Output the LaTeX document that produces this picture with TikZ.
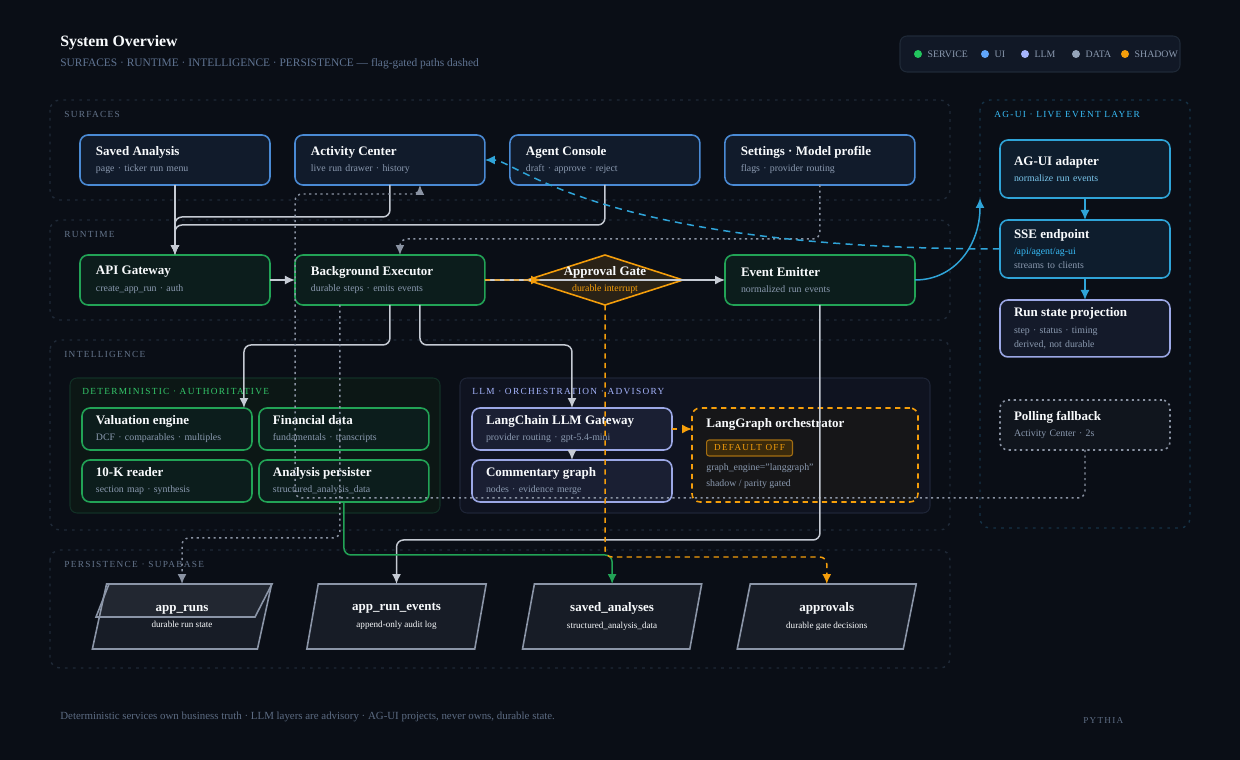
\documentclass[tikz,border=0pt]{standalone}
\usepackage{fontspec}
\setmainfont{Liberation Serif}
\usepackage{tikz}
\usetikzlibrary{positioning,arrows.meta,shapes.geometric}

\definecolor{bgdark}{HTML}{0A0E16}
\definecolor{groupline}{HTML}{1F2937}
\definecolor{grouplabel}{HTML}{64748B}
\definecolor{titlewhite}{HTML}{F8FAFC}
\definecolor{subgray}{HTML}{8B9AB0}
\definecolor{headsub}{HTML}{5F7391}
\definecolor{uiblue}{HTML}{4A8AD4}
\definecolor{uifill}{HTML}{111B2B}
\definecolor{svcgreen}{HTML}{22A356}
\definecolor{svcfill}{HTML}{0C1D1C}
\definecolor{svclabel}{HTML}{34C86A}
\definecolor{detfill}{HTML}{0C1715}
\definecolor{detline}{HTML}{123026}
\definecolor{llmpurple}{HTML}{9CA8E6}
\definecolor{llmfill}{HTML}{1A1F33}
\definecolor{llmgroup}{HTML}{0F1320}
\definecolor{llmgroupline}{HTML}{1E2536}
\definecolor{llmlabel}{HTML}{A5B4FC}
\definecolor{shadoworange}{HTML}{F59E0B}
\definecolor{gatefill}{HTML}{2A2216}
\definecolor{lgofill}{HTML}{161618}
\definecolor{badgefill}{HTML}{3A2A0C}
\definecolor{badgeline}{HTML}{A36E12}
\definecolor{agcyan}{HTML}{2FA4D8}
\definecolor{agfill}{HTML}{0E1D2D}
\definecolor{aglabel}{HTML}{38BDF8}
\definecolor{agsub}{HTML}{7CC8EE}
\definecolor{agline}{HTML}{163246}
\definecolor{rspfill}{HTML}{141A2A}
\definecolor{pollfill}{HTML}{10151D}
\definecolor{datagray}{HTML}{8B95A7}
\definecolor{datafill}{HTML}{171C26}
\definecolor{flowgray}{HTML}{C5CAD3}
\definecolor{dotgray}{HTML}{8A93A3}
\definecolor{legendfill}{HTML}{111826}
\definecolor{footgray}{HTML}{5C6B82}
\definecolor{dotgreen}{HTML}{22C55E}
\definecolor{dotblue}{HTML}{60A5FA}
\definecolor{dotlav}{HTML}{A5B4FC}
\definecolor{dotslate}{HTML}{94A3B8}

\newcommand{\nodetitle}[1]{{\fontsize{7.4}{9}\selectfont\bfseries\color{titlewhite}#1}}
\newcommand{\nodesub}[1]{{\fontsize{5.6}{9}\selectfont\color{subgray}#1}}
\newcommand{\spaced}[1]{{\addfontfeature{LetterSpace=14}#1}}

\begin{document}
\begin{tikzpicture}[
x=0.02cm, y=-0.02cm,
node distance=0.5cm,
every node/.style={text=titlewhite},
card/.style={draw, line width=0.9pt, rounded corners=0.16cm, align=left, text width=3.16cm, inner xsep=0.32cm, inner ysep=0pt, outer sep=0pt, minimum height=1cm, font=\fontsize{5.6}{9.5}\selectfont, anchor=north west},
ui/.style={card, draw=uiblue, fill=uifill},
svc/.style={card, draw=svcgreen, fill=svcfill},
smallsvc/.style={svc, text width=2.84cm, inner xsep=0.28cm, minimum height=0.84cm},
llm/.style={card, draw=llmpurple, fill=llmfill, text width=3.44cm, inner xsep=0.28cm, minimum height=0.84cm},
ag/.style={card, draw=agcyan, fill=agfill, text width=2.84cm, inner xsep=0.28cm, minimum height=1.16cm},
gate/.style={diamond, draw=shadoworange, fill=gatefill, line width=0.9pt, aspect=3.12, inner xsep=0pt, inner ysep=-2.5pt, outer sep=0pt, minimum width=3.12cm, minimum height=1cm, align=center, font=\fontsize{5.6}{9.5}\selectfont},
db/.style={trapezium, trapezium left angle=76, trapezium right angle=104, trapezium stretches=true, draw=datagray, line width=0.9pt, fill=datafill, minimum width=3.6cm, minimum height=1.3cm, align=center, inner sep=0pt, outer sep=0pt, font=\fontsize{5.2}{9.5}\selectfont},
group/.style={draw=groupline, line width=0.8pt, dash pattern=on 1.5pt off 3pt, rounded corners=0.2cm},
grouplbl/.style={anchor=west, inner sep=0pt, text=grouplabel, font=\fontsize{5.3}{6}\selectfont},
legdot/.style={circle, inner sep=0pt, minimum size=0.16cm},
legtxt/.style={anchor=west, inner sep=0pt, text=subgray, font=\fontsize{5.6}{6}\selectfont},
flow/.style={draw=flowgray, line width=0.85pt, rounded corners=0.14cm, -{Latex[length=2mm,width=1.8mm]}},
dotflow/.style={flow, draw=dotgray, dash pattern=on 1.2pt off 2pt},
shadowflow/.style={flow, draw=shadoworange, dash pattern=on 3pt off 2.5pt},
liveflow/.style={flow, draw=agcyan},
livedash/.style={liveflow, dash pattern=on 4pt off 3pt}
]
\fill[bgdark] (0,0) rectangle (1240,760);
\useasboundingbox (0,0) rectangle (1240,760);

\node[anchor=base west, inner sep=0pt, font=\fontsize{9}{10}\selectfont\bfseries] (title) at (60,47) {System Overview};
\node[anchor=base west, inner sep=0pt, text=headsub, font=\fontsize{6.5}{7}\selectfont] (subtitle) at (60,67) {SURFACES · RUNTIME · INTELLIGENCE · PERSISTENCE — flag-gated paths dashed};

\draw[fill=legendfill, draw=groupline, line width=0.6pt, rounded corners=0.14cm] (900,36) rectangle (1180,72);
\node[legdot, fill=dotgreen] (lsvc) at (918,54) {};
\node[legtxt, right=0.1cm of lsvc] (lsvctxt) {SERVICE};
\node[legdot, fill=dotblue] (lui) at (985,54) {};
\node[legtxt, right=0.1cm of lui] (luitxt) {UI};
\node[legdot, fill=dotlav] (lllm) at (1025,54) {};
\node[legtxt, right=0.1cm of lllm] (lllmtxt) {LLM};
\node[legdot, fill=dotslate] (ldata) at (1076,54) {};
\node[legtxt, right=0.1cm of ldata] (ldatatxt) {DATA};
\node[legdot, fill=shadoworange] (lshadow) at (1125,54) {};
\node[legtxt, right=0.1cm of lshadow] (lshadowtxt) {SHADOW};

\draw[group] (50,100) rectangle (950,200);
\draw[group] (50,220) rectangle (950,320);
\draw[group] (50,340) rectangle (950,530);
\draw[group] (50,550) rectangle (950,668);
\draw[group, draw=agline] (980,100) rectangle (1190,528);
\node[grouplbl] (gsurf) at (64,114) {\spaced{SURFACES}};
\node[grouplbl] (grun) at (64,234) {\spaced{RUNTIME}};
\node[grouplbl] (gint) at (64,354) {\spaced{INTELLIGENCE}};
\node[grouplbl] (gpers) at (64,564) {\spaced{PERSISTENCE · SUPABASE}};
\node[grouplbl, text=aglabel] (gag) at (994,114) {\spaced{AG-UI · LIVE EVENT LAYER}};

\draw[fill=detfill, draw=detline, line width=0.6pt, rounded corners=0.14cm] (70,378) rectangle (440,513);
\draw[fill=llmgroup, draw=llmgroupline, line width=0.6pt, rounded corners=0.14cm] (460,378) rectangle (930,513);
\node[grouplbl, text=svclabel] (gdet) at (82,391) {\spaced{DETERMINISTIC · AUTHORITATIVE}};
\node[grouplbl, text=llmlabel] (gllm) at (472,391) {\spaced{LLM · ORCHESTRATION · ADVISORY}};

\node[ui] (sa) at (80,135) {\nodetitle{Saved Analysis}\\\nodesub{page · ticker run menu}};
\node[ui, right=of sa] (ac) {\nodetitle{Activity Center}\\\nodesub{live run drawer · history}};
\node[ui, right=of ac] (agc) {\nodetitle{Agent Console}\\\nodesub{draft · approve · reject}};
\node[ui, right=of agc] (set) {\nodetitle{Settings · Model profile}\\\nodesub{flags · provider routing}};

\node[svc] (api) at (80,255) {\nodetitle{API Gateway}\\\nodesub{create\_app\_run · auth}};
\node[svc, right=of api] (bge) {\nodetitle{Background Executor}\\\nodesub{durable steps · emits events}};
\node[gate] (gate) at (605,280) {\nodetitle{Approval Gate}\\{\color{shadoworange}durable interrupt}};
\node[svc] (emit) at (725,255) {\nodetitle{Event Emitter}\\\nodesub{normalized run events}};

\node[smallsvc] (val) at (82,408) {\nodetitle{Valuation engine}\\\nodesub{DCF · comparables · multiples}};
\node[smallsvc, right=0.14cm of val] (fin) {\nodetitle{Financial data}\\\nodesub{fundamentals · transcripts}};
\node[smallsvc, below=0.2cm of val] (tenk) {\nodetitle{10-K reader}\\\nodesub{section map · synthesis}};
\node[smallsvc, right=0.14cm of tenk] (ap) {\nodetitle{Analysis persister}\\\nodesub{structured\_analysis\_data}};

\node[llm] (lcg) at (472,408) {\nodetitle{LangChain LLM Gateway}\\\nodesub{provider routing · gpt-5.4-mini}};
\node[llm, below=0.2cm of lcg] (cg) {\nodetitle{Commentary graph}\\\nodesub{nodes · evidence merge}};
\node[draw=shadoworange, dash pattern=on 3pt off 2.5pt, line width=0.9pt, fill=lgofill, rounded corners=0.16cm, minimum width=4.52cm, minimum height=1.88cm, anchor=north west, inner sep=0pt, outer sep=0pt] (lgo) at (692,408) {};
\node[anchor=west, inner sep=0pt] (lgotitle) at (706,424) {\nodetitle{LangGraph orchestrator}};
\node[anchor=west, draw=badgeline, fill=badgefill, line width=0.6pt, rounded corners=0.05cm, minimum width=1.72cm, minimum height=0.32cm, inner sep=0pt, text=shadoworange, font=\fontsize{5.2}{6}\selectfont] (lgobadge) at (706,448) {\spaced{DEFAULT OFF}};
\node[anchor=west, inner sep=0pt] (lgoeng) at (706,468) {\nodesub{graph\_engine="langgraph"}};
\node[anchor=west, inner sep=0pt] (lgogate) at (706,484) {\nodesub{shadow / parity gated}};

\node[ag] (ad) at (1000,140) {\nodetitle{AG-UI adapter}\\{\fontsize{5.6}{9}\selectfont\color{agsub}normalize run events}};
\node[ag, below=0.44cm of ad] (sse) {\nodetitle{SSE endpoint}\\{\fontsize{5.6}{9}\selectfont\color{aglabel}/api/agent/ag-ui}\\[-1.5pt]\nodesub{streams to clients}};
\node[ag, below=0.44cm of sse, draw=llmpurple, fill=rspfill, minimum height=1.14cm] (rsp) {\nodetitle{Run state projection}\\\nodesub{step · status · timing}\\[-1.5pt]\nodesub{derived, not durable}};
\node[ag, draw=dotgray, dash pattern=on 1.2pt off 2pt, fill=pollfill, minimum height=1cm] (poll) at (1000,400) {\nodetitle{Polling fallback}\\\nodesub{Activity Center · 2s}};

\node[db] (runs) at (182,616.5) {\nodetitle{app\_runs}\\{\color{titlewhite}durable run state}};
\draw[datagray, line width=0.9pt, fill=white, fill opacity=0.05] (109,584) -- (272,584) -- (255,617) -- (96,617) -- cycle;
\node[db, right=0.96cm of runs] (events) {\nodetitle{app\_run\_events}\\{\color{titlewhite}append-only audit log}};
\node[db, right=0.96cm of events] (saved) {\nodetitle{saved\_analyses}\\{\color{titlewhite}structured\_analysis\_data}};
\node[db, right=0.96cm of saved] (appr) {\nodetitle{approvals}\\{\color{titlewhite}durable gate decisions}};

\coordinate (agin) at (980,198);

\draw[flow] (sa) -- (api);
\draw[flow] (ac.south) -- ++(0,32) -| (api);
\draw[flow] (agc.south) -- ++(0,40) -| (api);
\draw[flow] (api) -- (bge);
\draw[flow] (bge.east) -- (emit.west);
\draw[shadowflow] (bge.east) -- ([xshift=0.28cm]gate.west);
\draw[dotflow] (set.south) -- ++(0,54) -| ([xshift=0.2cm]bge.north);
\draw[liveflow] (emit.east) .. controls (955,280) and (980,245) .. (agin);
\draw[livedash] (sse.west) .. controls (600,249) and (515,160) .. (ac.east);
\draw[flow] (bge.south) -- ++(0,40) -| ([xshift=-0.16cm]val.north east);
\draw[flow] ([xshift=0.6cm]bge.south) -- ++(0,40) -| (lcg);
\draw[flow] (lcg) -- (cg);
\draw[shadowflow] (lcg.east) -- (lcg.east -| lgo.west);
\draw[dotflow] ([xshift=-1cm]bge.south) -- ++(0,233) -| (runs);
\draw[dotflow] (poll.south) -- ++(0,48) -| (295,194) -| ([xshift=0.6cm]ac.south);
\draw[flow] (emit.south) -- ++(0,235) -| (events);
\draw[flow, draw=svcgreen] (ap.south) -- ++(0,53) -| (saved);
\draw[shadowflow] (gate.south) -- ++(0,252) -| (appr);
\draw[liveflow] (ad) -- (sse);
\draw[liveflow] (sse) -- (rsp);

\node[anchor=base west, inner sep=0pt, text=footgray, font=\fontsize{6.2}{7}\selectfont] (foot) at (60,719) {Deterministic services own business truth · LLM layers are advisory · AG-UI projects, never owns, durable state.};
\node[anchor=base west, inner sep=0pt, text=footgray, font=\fontsize{5.2}{7}\selectfont] (brand) at (1083,723) {\spaced{PYTHIA}};
\end{tikzpicture}
\end{document}
